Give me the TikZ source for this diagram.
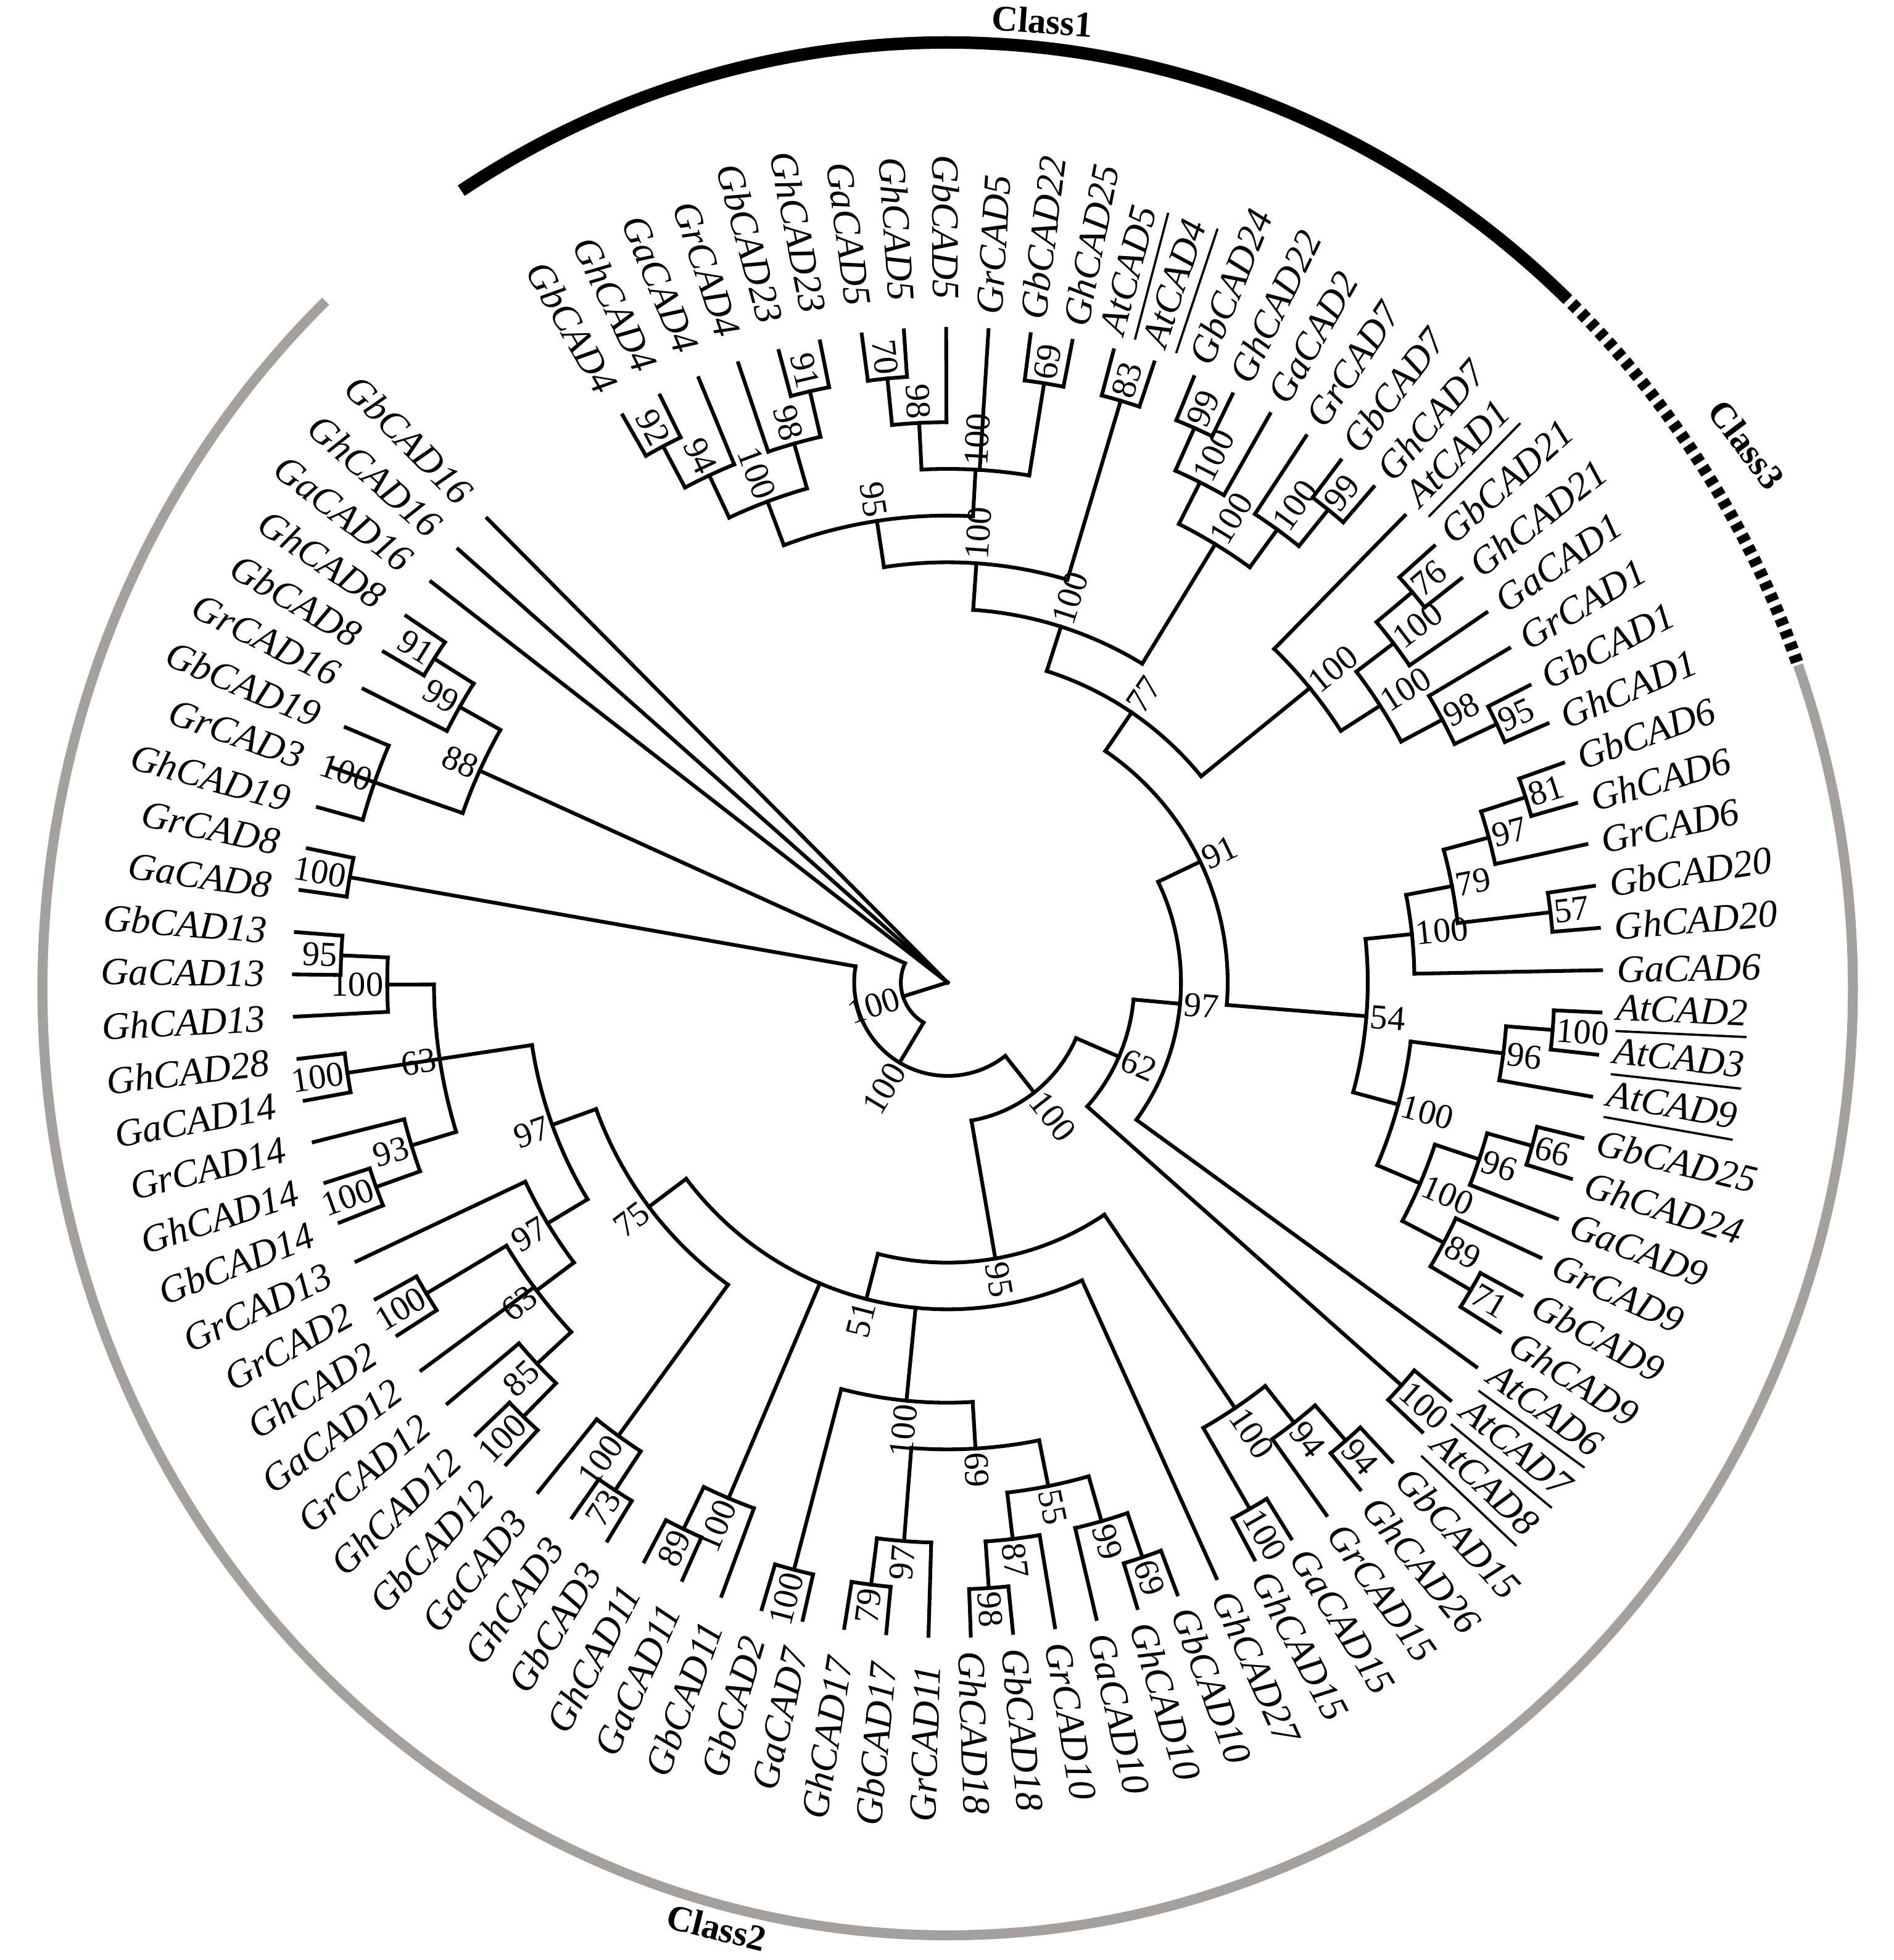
\documentclass[tikz,border=0pt]{standalone}
\usepackage{fontspec}
\setmainfont{Liberation Serif}
\definecolor{classgrey}{RGB}{163,160,158}
\tikzset{
  tl/.style={line width=3pt, line cap=rect, line join=miter},
  leaflab/.style={inner sep=0pt, font=\fontsize{31}{31}\selectfont\itshape},
  bslab/.style={inner sep=0pt, font=\fontsize{28}{28}\selectfont},
  classlab/.style={inner sep=0pt, font=\fontsize{29}{29}\selectfont\bfseries},
}
\newcommand\ulin[1]{\setbox0\hbox{#1}\leavevmode\rlap{\rule[-0.32em]{\wd0}{1.8pt}}\box0}
\newcommand\setA[2]{\expandafter\xdef\csname TA#1\endcsname{#2}}
\newcommand\getA[1]{\csname TA#1\endcsname}
% label placed radially: #1 angle, #2 radius if outward, #3 radius if inward, #4 style, #5 name, #6 text
\newcommand\placelab[6]{%
  \edef\pa{#1}%
  \ifdim\pa pt<-180pt \pgfmathsetmacro\pb{\pa+360}\else\let\pb\pa\fi
  \ifdim\pb pt>90pt \def\pin{1}\else\ifdim\pb pt<-90pt \def\pin{1}\else\def\pin{0}\fi\fi
  \if1\pin
    \pgfmathsetmacro\pc{\pb+180}%
    \node[#4, anchor=east, rotate=\pc] (#5) at (\pa:#3) {#6};
  \else
    \node[#4, anchor=west, rotate=\pb] (#5) at (\pa:#2) {#6};
  \fi
}
% leaf: #1 name, #2 index, #3 text
\newcommand\leaf[3]{%
  \pgfmathsetmacro\la{119.8-(#2-1)*3.71}%
  \setA{#1}{\la}%
  \coordinate (#1) at (\la:523.6);
  \placelab{\la}{536}{547}{leaflab}{#1-t}{#3}%
}
% clade: #1 name, #2 height, #3 children (clockwise), #4 bootstrap
\newcommand\clade[4]{%
  \pgfmathsetmacro\nr{37.4*(14-#2)}%
  \foreach \ch [count=\i] in {#3} {\ifnum\i=1 \xdef\cfirst{\ch}\fi\xdef\clast{\ch}}%
  \edef\af{\getA{\cfirst}}\edef\al{\getA{\clast}}%
  \pgfmathsetmacro\na{(\af+\al)/2}%
  \setA{#1}{\na}%
  \coordinate (#1) at (\na:\nr);
  \ifdim\nr pt>0.5pt
    \draw[tl] (\af:\nr) arc[start angle=\af, end angle=\al, radius=\nr pt];
  \fi
  \foreach \ch in {#3} {%
    \edef\ca{\getA{\ch}}%
    \coordinate (\ch-ft) at (\ca:\nr);
    \draw[tl] (\ch-ft) -- (\ch);
  }%
  \if\relax\detokenize{#4}\relax\else
    \pgfmathsetmacro\lr{\nr+3}%
    \placelab{\na}{\lr}{\lr}{bslab}{#1-b}{#4}%
  \fi
}
\begin{document}
\begin{tikzpicture}[x=1pt,y=1pt]
\useasboundingbox (-759,-783) rectangle (758,787);
\fill[white] (-759,-783) rectangle (758,787);
% class arcs
\begin{scope}[shift={(0,-5)}]
  \draw[line width=10pt] (122.5:725pt and 758pt) arc[start angle=122.5, end angle=47.2, x radius=725pt, y radius=758pt];
  \draw[line width=10pt, dash pattern=on 6pt off 4.5pt] (47.2:725pt and 758pt) arc[start angle=47.2, end angle=20, x radius=725pt, y radius=758pt];
  \draw[line width=8pt, classgrey] (20:725pt and 758pt) arc[start angle=20, end angle=-226.6, x radius=725pt, y radius=758pt];
\end{scope}
\node[classlab, rotate=-4] (c1) at (76,770) {Class1};
\node[classlab, rotate=-53] (c3) at (640,431) {Class3};
\node[classlab, rotate=-14] (c2) at (-185,-757) {Class2};
% leaves
\leaf{l1}{1}{GbCAD4}
\leaf{l2}{2}{GhCAD4}
\leaf{l3}{3}{GaCAD4}
\leaf{l4}{4}{GrCAD4}
\leaf{l5}{5}{GbCAD23}
\leaf{l6}{6}{GhCAD23}
\leaf{l7}{7}{GaCAD5}
\leaf{l8}{8}{GhCAD5}
\leaf{l9}{9}{GbCAD5}
\leaf{l10}{10}{GrCAD5}
\leaf{l11}{11}{GbCAD22}
\leaf{l12}{12}{GhCAD25}
\leaf{l13}{13}{\ulin{AtCAD5}}
\leaf{l14}{14}{\ulin{AtCAD4}}
\leaf{l15}{15}{GbCAD24}
\leaf{l16}{16}{GhCAD22}
\leaf{l17}{17}{GaCAD2}
\leaf{l18}{18}{GrCAD7}
\leaf{l19}{19}{GbCAD7}
\leaf{l20}{20}{GhCAD7}
\leaf{l21}{21}{\ulin{AtCAD1}}
\leaf{l22}{22}{GbCAD21}
\leaf{l23}{23}{GhCAD21}
\leaf{l24}{24}{GaCAD1}
\leaf{l25}{25}{GrCAD1}
\leaf{l26}{26}{GbCAD1}
\leaf{l27}{27}{GhCAD1}
\leaf{l28}{28}{GbCAD6}
\leaf{l29}{29}{GhCAD6}
\leaf{l30}{30}{GrCAD6}
\leaf{l31}{31}{GbCAD20}
\leaf{l32}{32}{GhCAD20}
\leaf{l33}{33}{GaCAD6}
\leaf{l34}{34}{\ulin{AtCAD2}}
\leaf{l35}{35}{\ulin{AtCAD3}}
\leaf{l36}{36}{\ulin{AtCAD9}}
\leaf{l37}{37}{GbCAD25}
\leaf{l38}{38}{GhCAD24}
\leaf{l39}{39}{GaCAD9}
\leaf{l40}{40}{GrCAD9}
\leaf{l41}{41}{GbCAD9}
\leaf{l42}{42}{GhCAD9}
\leaf{l43}{43}{\ulin{AtCAD6}}
\leaf{l44}{44}{\ulin{AtCAD7}}
\leaf{l45}{45}{\ulin{AtCAD8}}
\leaf{l46}{46}{GbCAD15}
\leaf{l47}{47}{GhCAD26}
\leaf{l48}{48}{GrCAD15}
\leaf{l49}{49}{GaCAD15}
\leaf{l50}{50}{GhCAD15}
\leaf{l51}{51}{GhCAD27}
\leaf{l52}{52}{GbCAD10}
\leaf{l53}{53}{GhCAD10}
\leaf{l54}{54}{GaCAD10}
\leaf{l55}{55}{GrCAD10}
\leaf{l56}{56}{GbCAD18}
\leaf{l57}{57}{GhCAD18}
\leaf{l58}{58}{GrCAD11}
\leaf{l59}{59}{GbCAD17}
\leaf{l60}{60}{GhCAD17}
\leaf{l61}{61}{GaCAD7}
\leaf{l62}{62}{GbCAD2}
\leaf{l63}{63}{GbCAD11}
\leaf{l64}{64}{GaCAD11}
\leaf{l65}{65}{GhCAD11}
\leaf{l66}{66}{GbCAD3}
\leaf{l67}{67}{GhCAD3}
\leaf{l68}{68}{GaCAD3}
\leaf{l69}{69}{GbCAD12}
\leaf{l70}{70}{GhCAD12}
\leaf{l71}{71}{GrCAD12}
\leaf{l72}{72}{GaCAD12}
\leaf{l73}{73}{GhCAD2}
\leaf{l74}{74}{GrCAD2}
\leaf{l75}{75}{GrCAD13}
\leaf{l76}{76}{GbCAD14}
\leaf{l77}{77}{GhCAD14}
\leaf{l78}{78}{GrCAD14}
\leaf{l79}{79}{GaCAD14}
\leaf{l80}{80}{GhCAD28}
\leaf{l81}{81}{GhCAD13}
\leaf{l82}{82}{GaCAD13}
\leaf{l83}{83}{GbCAD13}
\leaf{l84}{84}{GaCAD8}
\leaf{l85}{85}{GrCAD8}
\leaf{l86}{86}{GhCAD19}
\leaf{l87}{87}{GrCAD3}
\leaf{l88}{88}{GbCAD19}
\leaf{l89}{89}{GrCAD16}
\leaf{l90}{90}{GbCAD8}
\leaf{l91}{91}{GhCAD8}
\leaf{l92}{92}{GaCAD16}
\leaf{l93}{93}{GhCAD16}
\leaf{l94}{94}{GbCAD16}
% clades (bottom-up)
\clade{n92}{1}{l1,l2}{92}
\clade{n94}{2}{n92,l3}{94}
\clade{n91a}{1}{l5,l6}{91}
\clade{n98a}{2}{l4,n91a}{98}
\clade{n100a}{3}{n94,n98a}{100}
\clade{n70}{1}{l7,l8}{70}
\clade{n98b}{2}{n70,l9}{98}
\clade{n69a}{1}{l11,l12}{69}
\clade{n100b}{3}{n98b,l10,n69a}{100}
\clade{n95a}{4}{n100a,n100b}{95}
\clade{n83}{1}{l13,l14}{83}
\clade{n100p}{5}{n95a,n83}{100}
\clade{n99a}{1}{l15,l16}{99}
\clade{n100c}{2}{n99a,l17}{100}
\clade{n99b}{1}{l19,l20}{99}
\clade{n100d}{2}{l18,n99b}{100}
\clade{n100e}{3}{n100c,n100d}{100}
\clade{n100q}{6}{n100p,n100e}{100}
\clade{n76}{1}{l22,l23}{76}
\clade{n100g}{2}{n76,l24}{100}
\clade{n95b}{1}{l26,l27}{95}
\clade{n98c}{2}{l25,n95b}{98}
\clade{n100h}{3}{n100g,n98c}{100}
\clade{n100i}{4}{l21,n100h}{100}
\clade{n77}{7}{n100q,n100i}{77}
\clade{n81}{1}{l28,l29}{81}
\clade{n97c}{2}{n81,l30}{97}
\clade{n57}{1}{l31,l32}{57}
\clade{n79b}{3}{n97c,n57}{79}
\clade{n100n}{4}{n79b,l33}{100}
\clade{n100r}{1}{l34,l35}{100}
\clade{n96a}{2}{n100r,l36}{96}
\clade{n66}{1}{l37,l38}{66}
\clade{n96b}{2}{n66,l39}{96}
\clade{n71}{1}{l41,l42}{71}
\clade{n89b}{2}{l40,n71}{89}
\clade{n100s}{3}{n96b,n89b}{100}
\clade{n100o}{4}{n96a,n100s}{100}
\clade{n54}{5}{n100n,n100o}{54}
\clade{n91}{8}{n77,n54}{91}
\clade{n97}{9}{n91,l43}{97}
\clade{n100j}{1}{l44,l45}{100}
\clade{n62}{10}{n97,n100j}{62}
\clade{n94a}{1}{l46,l47}{94}
\clade{n94b}{2}{n94a,l48}{94}
\clade{n100u}{1}{l49,l50}{100}
\clade{n100t}{3}{n94b,n100u}{100}
\clade{n69b}{1}{l52,l53}{69}
\clade{n99c}{2}{n69b,l54}{99}
\clade{n98d}{1}{l56,l57}{98}
\clade{n87}{2}{l55,n98d}{87}
\clade{n55}{3}{n99c,n87}{55}
\clade{n79}{1}{l59,l60}{79}
\clade{n97d}{2}{l58,n79}{97}
\clade{n69c}{4}{n55,n97d}{69}
\clade{n100x}{1}{l61,l62}{100}
\clade{n100v}{5}{n69c,n100x}{100}
\clade{n89}{1}{l64,l65}{89}
\clade{n100y}{2}{l63,n89}{100}
\clade{n73}{1}{l66,l67}{73}
\clade{n100w}{2}{n73,l68}{100}
\clade{n100z}{1}{l69,l70}{100}
\clade{n85}{2}{n100z,l71}{85}
\clade{n100aa}{1}{l73,l74}{100}
\clade{n63b}{3}{n85,l72,n100aa}{63}
\clade{n97e}{4}{n63b,l75}{97}
\clade{n100cc}{1}{l76,l77}{100}
\clade{n93}{2}{n100cc,l78}{93}
\clade{n100bb}{1}{l79,l80}{100}
\clade{n95d}{1}{l82,l83}{95}
\clade{n100dd}{2}{l81,n95d}{100}
\clade{n63a}{3}{n93,n100bb,n100dd}{63}
\clade{n97f}{5}{n97e,n63a}{97}
\clade{n75}{6}{n100w,n97f}{75}
\clade{n51}{7}{l51,n100v,n100y,n75}{51}
\clade{n95c}{8}{n100t,n51}{95}
\clade{n100k}{11}{n62,n95c}{100}
\clade{n100m}{1}{l84,l85}{100}
\clade{nB}{12}{n100k,n100m}{100}
\clade{n100l}{1}{l86,l87,l88}{100}
\clade{n91b}{1}{l90,l91}{91}
\clade{n99d}{2}{l89,n91b}{99}
\clade{n88}{3}{n100l,n99d}{88}
\clade{nA}{13}{nB,n88}{100}
\clade{root}{14}{nA,l92,l93,l94}{}
\end{tikzpicture}
\end{document}
